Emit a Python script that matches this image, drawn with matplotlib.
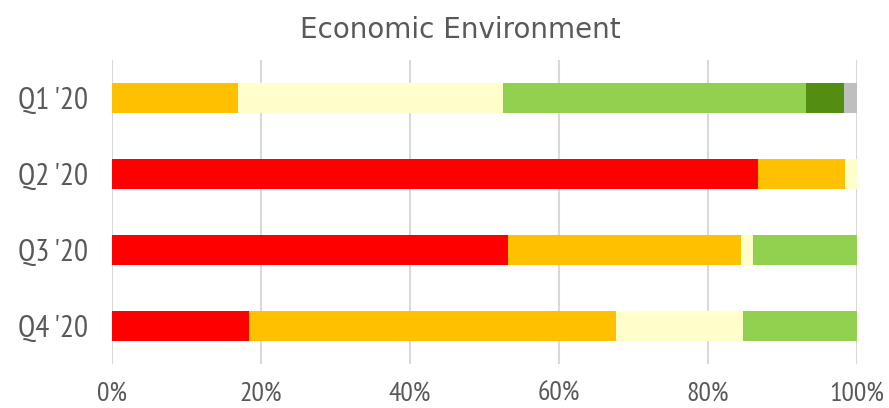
import numpy as np
import matplotlib.pyplot as plt

quarters = ["Q1 '20", "Q2 '20", "Q3 '20", "Q4 '20"]
much_worse = [0.0, 86.7, 53.1, 18.4]
worse = [16.9, 11.7, 31.3, 49.3]
same = [35.6, 1.6, 1.6, 17.0]
better = [40.7, 0.0, 14.0, 15.3]
much_better = [5.1, 0.0, 0.0, 0.0]
no_answer = [1.7, 0.0, 0.0, 0.0]

series = [much_worse, worse, same, better, much_better, no_answer]
colors = ["#FF0000", "#FFC000", "#FFFFCC", "#92D050", "#538E12", "#BFBFBF"]

plt.rcParams['font.family'] = ['PT Sans Narrow', 'Roboto Condensed', 'Archivo Narrow', 'DejaVu Sans']

fig = plt.figure(figsize=(8.89, 4.08), dpi=100)
ax = fig.add_axes([112 / 889, 44 / 408, 745 / 889, 304 / 408])

y = np.arange(len(quarters))
left = np.zeros(len(quarters))
for vals, c in zip(series, colors):
    ax.barh(y, vals, left=left, height=0.4, color=c, zorder=3)
    left += np.array(vals)

ax.set_xlim(0, 100)
ax.set_ylim(3.5, -0.5)
ax.set_xticks(np.arange(0, 101, 20))
ax.set_xticklabels([f"{v}%" for v in range(0, 101, 20)], fontsize=20, color="#595959")
ax.set_yticks(y)
ax.set_yticklabels(quarters, fontsize=22.5, color="#595959")
ax.tick_params(axis='x', length=0, pad=13)
ax.tick_params(axis='y', length=0, pad=17)
ax.grid(axis='x', color="#D9D9D9", linewidth=1.5, zorder=0)
for s in ax.spines.values():
    s.set_visible(False)

fig.text(460 / 889, (408 - 38) / 408, "Economic Environment", ha='center', va='baseline',
         fontsize=20, color="#595959", family=['DejaVu Sans'])

fig.savefig("out.png", dpi=100)
